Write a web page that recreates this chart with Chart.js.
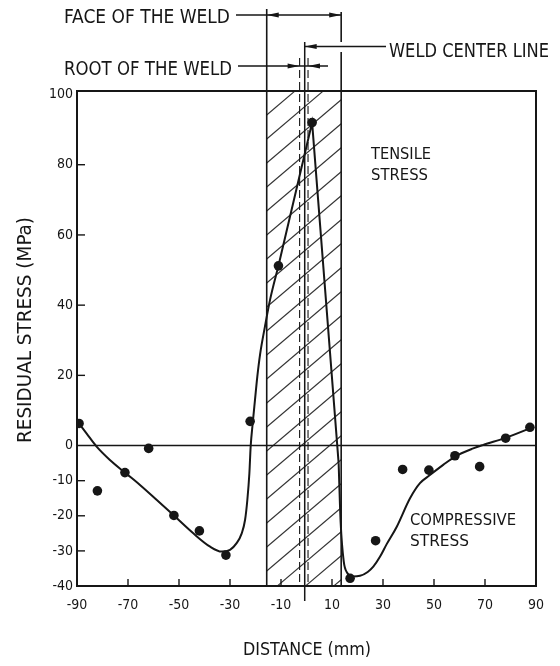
<!DOCTYPE html>
<html>
<head>
<meta charset="utf-8">
<title>Residual stress across the weld</title>
<script src="https://cdn.jsdelivr.net/npm/chart.js@4.4.1/dist/chart.umd.min.js"></script>
<style>
  html, body { margin: 0; padding: 0; background: #fff; }
  canvas { display: block; }
</style>
</head>
<body>
<canvas id="stressChart" width="560" height="666"></canvas>
<script>
// measured points (distance mm / residual stress MPa)
var distPts   = [-89.2, -82.0, -71.2, -61.9, -52.0, -42.0, -31.6, -22.1, -11.0, 2.2, 17.1, 27.1, 37.7, 48.0, 58.2, 67.9, 78.1, 87.6];
var stressPts = [6.3, -12.9, -7.7, -0.8, -19.9, -24.3, -31.2, 6.9, 51.2, 92.0, -37.8, -27.1, -6.8, -7.0, -2.9, -6.0, 2.1, 5.2];

// fitted curve
var fitLeftX  = [-89.2, -86.2, -82.3, -77.1, -71.2, -65.3, -58.7, -52.2, -44.4, -37.8, -33.3, -30.0, -27.4, -25.4, -24.1, -23.2, -22.4, -21.9, -21.1, -20.2, -19.3, -18.2, -16.3, -14.3, -11.0];
var fitLeftY  = [6.3, 3.4, -0.3, -4.1, -7.7, -11.2, -15.5, -19.8, -25.0, -28.8, -30.2, -29.7, -27.8, -25.0, -21.2, -15.5, -7.9, -0.3, 6.3, 13.0, 19.6, 26.0, 33.9, 41.5, 51.2];
var fitPeakX  = [-11.0, 2.2, 12.6];
var fitPeakY  = [51.2, 92.0, -5.0];
var fitRightX = [12.6, 13.4, 14.6, 16.0, 18.0, 21.0, 24.0, 26.2, 28.8, 31.5, 35.4, 40.6, 44.5, 48.4, 53.6, 58.1, 65.4, 69.3, 78.1, 87.6, 89.2];
var fitRightY = [-5.0, -22.0, -33.0, -36.3, -37.3, -37.1, -36.0, -34.5, -31.7, -28.0, -23.1, -15.0, -10.7, -8.4, -5.5, -3.2, -0.8, 0.2, 2.2, 4.9, 5.4];

var xTicks = [-90, -70, -50, -30, -10, 10, 30, 50, 70, 90];
var yTicks = [100, 80, 60, 40, 20, 0, -10, -20, -30, -40];

// weld zone (mm)
var weldFace   = [-15.6, 13.6];
var weldRoot   = [-2.7, 0.6];
var weldCenter = -0.7;

var INK = '#161616';
var FONT = '"DejaVu Sans Condensed", "Liberation Sans Narrow", "DejaVu Sans", sans-serif';

function pts(xs, ys) {
  var out = [];
  for (var i = 0; i < xs.length; i++) out.push({x: xs[i], y: ys[i]});
  return out;
}

function seg(c, x1, y1, x2, y2) {
  c.beginPath(); c.moveTo(x1, y1); c.lineTo(x2, y2); c.stroke();
}

// tip at (x,y), dir -1 = points left, +1 = points right
function arrow(c, x, y, dir) {
  c.beginPath();
  c.moveTo(x, y);
  c.lineTo(x - dir * 12, y - 2.6);
  c.lineTo(x - dir * 12, y + 2.6);
  c.closePath();
  c.fill();
}

// text squeezed/stretched to a given width, left edge at x, middle at y
function label(c, txt, x, y, size, w, rot) {
  c.save();
  c.font = size + 'px ' + FONT;
  var m = c.measureText(txt).width;
  c.translate(x, y);
  if (rot) c.rotate(rot);
  c.scale(w / m, 1);
  c.textAlign = 'left';
  c.textBaseline = 'middle';
  c.fillStyle = INK;
  c.fillText(txt, 0, 0);
  c.restore();
}

var weldPlugin = {
  id: 'weld',
  beforeDatasetsDraw: function(chart) {
    var c = chart.ctx, a = chart.chartArea;
    var sx = chart.scales.x, sy = chart.scales.y;
    var xl = sx.getPixelForValue(weldFace[0]);
    var xr = sx.getPixelForValue(weldFace[1]);

    // hatched weld
    c.save();
    c.beginPath(); c.rect(xl, a.top, xr - xl, a.bottom - a.top); c.clip();
    c.strokeStyle = '#333'; c.lineWidth = 1.1;
    var rise = (xr - xl) * 0.85;
    for (var yb = a.top; yb < a.bottom + rise + 24; yb += 24) seg(c, xl, yb, xr, yb - rise);
    c.restore();

    c.save();
    c.strokeStyle = INK; c.fillStyle = INK;

    // zero line
    c.lineWidth = 1.6;
    var y0 = sy.getPixelForValue(0);
    seg(c, a.left, y0, a.right, y0);

    // root of weld, dashed
    c.lineWidth = 1.1;
    c.setLineDash([8, 4]);
    weldRoot.forEach(function(v) {
      var px = sx.getPixelForValue(v);
      seg(c, px, 58, px, a.bottom);
    });
    c.setLineDash([]);

    // weld center line
    c.lineWidth = 1.5;
    var xc = sx.getPixelForValue(weldCenter);
    seg(c, xc, 42, xc, a.bottom + 15);

    // face of weld edges
    c.lineWidth = 1.6;
    seg(c, xl, 9, xl, a.bottom);
    seg(c, xr, 12, xr, 42);
    seg(c, xr, 52, xr, a.bottom);

    // frame
    c.lineWidth = 2;
    c.strokeRect(a.left, a.top, a.right - a.left, a.bottom - a.top);

    // inward ticks
    c.lineWidth = 1.4;
    xTicks.forEach(function(v) {
      var px = sx.getPixelForValue(v);
      seg(c, px, a.bottom, px, a.bottom - 7);
    });
    yTicks.forEach(function(v) {
      if (v === 100 || v === -40 || v === 0) return;
      var py = sy.getPixelForValue(v);
      seg(c, a.left, py, a.left + 8, py);
    });

    // dimension lines above the plot
    c.lineWidth = 1.3;
    seg(c, 236, 15, xr, 15);
    arrow(c, xl, 15, -1);
    arrow(c, xr, 15, 1);

    seg(c, xc, 46.5, 386, 46.5);
    arrow(c, xc, 46.5, -1);

    var r0 = sx.getPixelForValue(weldRoot[0]);
    var r1 = sx.getPixelForValue(weldRoot[1]);
    seg(c, 238, 66, 328, 66);
    arrow(c, r0, 66, 1);
    arrow(c, r1, 66, -1);
    c.restore();
  },
  afterDraw: function(chart) {
    var c = chart.ctx;
    label(c, 'FACE OF THE WELD', 64, 18, 19, 166);
    label(c, 'WELD CENTER LINE', 389, 52, 19, 160);
    label(c, 'ROOT OF THE WELD', 64, 70, 19, 168);
    label(c, 'TENSILE', 371, 155, 16, 60);
    label(c, 'STRESS', 371, 176, 16, 57);
    label(c, 'COMPRESSIVE', 410, 521, 16, 106);
    label(c, 'STRESS', 410, 542, 16, 59);
    label(c, 'DISTANCE (mm)', 243, 651, 17, 128);
    label(c, 'RESIDUAL STRESS (MPa)', 26, 443, 19, 226, -Math.PI / 2);
  }
};

var tickFont = {family: FONT, size: 14};

new Chart(document.getElementById('stressChart'), {
  type: 'scatter',
  data: {
    datasets: [
      {
        label: 'measured',
        data: pts(distPts, stressPts),
        pointRadius: 4.8,
        pointBackgroundColor: INK,
        pointBorderWidth: 0,
        showLine: false
      },
      {
        label: 'fit left',
        data: pts(fitLeftX, fitLeftY),
        showLine: true,
        pointRadius: 0,
        borderColor: INK,
        borderWidth: 2,
        cubicInterpolationMode: 'monotone'
      },
      {
        label: 'fit peak',
        data: pts(fitPeakX, fitPeakY),
        showLine: true,
        pointRadius: 0,
        borderColor: INK,
        borderWidth: 2,
        tension: 0
      },
      {
        label: 'fit right',
        data: pts(fitRightX, fitRightY),
        showLine: true,
        pointRadius: 0,
        borderColor: INK,
        borderWidth: 2,
        cubicInterpolationMode: 'monotone'
      }
    ]
  },
  options: {
    responsive: false,
    animation: false,
    layout: {padding: {top: 91, right: 24, left: 0, bottom: 0}},
    plugins: {legend: {display: false}, tooltip: {enabled: false}},
    scales: {
      x: {
        type: 'linear',
        min: -90,
        max: 90,
        afterFit: function(s) { s.height = 80; },
        afterBuildTicks: function(s) { s.ticks = xTicks.map(function(v) { return {value: v}; }); },
        grid: {display: false, drawTicks: false},
        border: {display: false},
        ticks: {font: tickFont, color: INK, padding: 11, maxRotation: 0, autoSkip: false}
      },
      y: {
        type: 'linear',
        min: -40,
        max: 101,
        afterFit: function(s) { s.width = 77; },
        afterBuildTicks: function(s) { s.ticks = yTicks.map(function(v) { return {value: v}; }); },
        grid: {display: false, drawTicks: false},
        border: {display: false},
        ticks: {font: tickFont, color: INK, padding: 4, autoSkip: false}
      }
    }
  },
  plugins: [weldPlugin]
});
</script>
</body>
</html>
